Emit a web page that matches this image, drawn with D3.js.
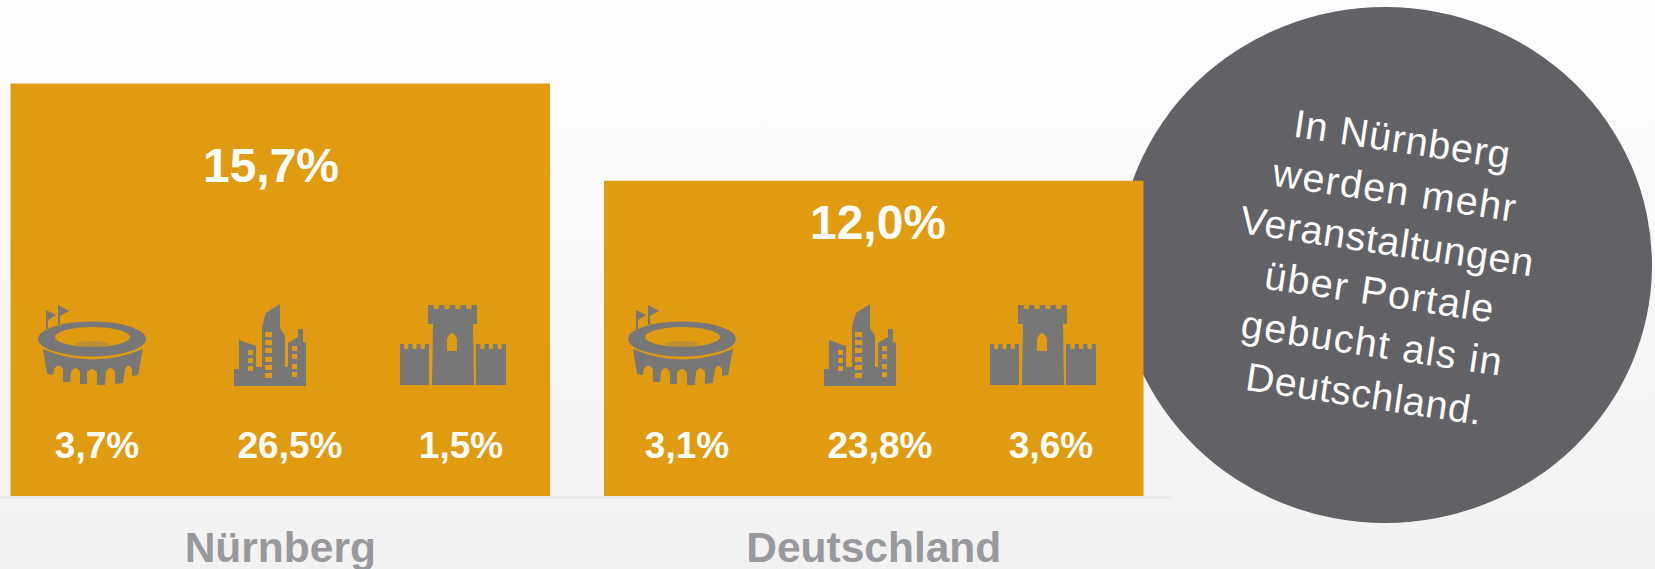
<!DOCTYPE html>
<html>
<head>
<meta charset="utf-8">
<script src="https://cdn.jsdelivr.net/npm/d3@7"></script>
<style>
  body { margin: 0; background: #fff; }
  text { font-family: "Liberation Sans", Arial, sans-serif; }
</style>
</head>
<body>
<div class="chart"></div>
<script>
// Data
var regions = ["Nürnberg", "Deutschland"];
var totals = [15.7, 12.0];
var venueTypes = ["stadium", "city", "castle"];
var stadiumValues = [3.7, 3.1];
var cityValues = [26.5, 23.8];
var castleValues = [1.5, 3.6];
var noteLines = ["In Nürnberg", "werden mehr", "Veranstaltungen", "über Portale", "gebucht als in", "Deutschland."];

var svgWidth = 1655;
var svgHeight = 569;
var baseline = 496;

var svg = d3.select(".chart")
  .append("svg")
  .attr("width", svgWidth)
  .attr("height", svgHeight)
  .style("display", "block");

var defs = svg.append("defs");

// Background fades to light grey
var grad = defs.append("linearGradient")
  .attr("id", "bg")
  .attr("x1", 0).attr("y1", 0).attr("x2", 0).attr("y2", 1);
grad.append("stop").attr("offset", "0%").attr("stop-color", "#fdfdfd");
grad.append("stop").attr("offset", "100%").attr("stop-color", "#f2f2f2");

// The icons are a bit soft in the original
defs.append("filter")
  .attr("id", "soft")
  .append("feGaussianBlur")
  .attr("stdDeviation", 0.5);

svg.append("rect")
  .attr("width", svgWidth)
  .attr("height", svgHeight)
  .attr("fill", "url(#bg)");

// Scales
var xScale = d3.scaleBand()
  .domain(regions)
  .range([0, 1170])
  .paddingInner(0.091)
  .paddingOuter(0.0312)
  .align(0.284);

var yScale = d3.scaleLinear()
  .domain([0, 16])
  .range([baseline, baseline - 16 * 26.27]);

var fmt = d3.formatLocale({ decimal: ",", thousands: ".", grouping: [3], currency: ["", "€"] }).format(".1f");
var pct = function(v) { return fmt(v) + "%"; };

// Grey note bubble sits behind the second bar
svg.append("ellipse")
  .attr("cx", 1385)
  .attr("cy", 265)
  .attr("rx", 267)
  .attr("ry", 258)
  .attr("fill", "#626166");

// Axis with the region names
var bottomAxis = d3.axisBottom(xScale).tickSize(0).tickPadding(35);
var axisGroup = svg.append("g")
  .attr("transform", `translate(0, ${baseline + 1})`)
  .call(bottomAxis);
axisGroup.select(".domain").attr("stroke", "#e6e6e6").attr("stroke-width", 2);
axisGroup.selectAll("text")
  .attr("font-size", 42.5)
  .attr("font-weight", "bold")
  .attr("fill", "#98989d");

// Bars
svg.selectAll(".bar")
  .data(regions)
  .enter()
  .append("rect")
  .attr("class", "bar")
  .attr("x", d => xScale(d))
  .attr("width", xScale.bandwidth())
  .attr("y", (d, i) => yScale(totals[i]))
  .attr("height", (d, i) => baseline - yScale(totals[i]))
  .attr("fill", "#e09b10");

// Headline percentage in each bar
var headlineX = d3.scaleOrdinal().domain(regions).range([271, 878]);
var headlineGap = d3.scaleOrdinal().domain(regions).range([98, 58.5]);
svg.selectAll(".total")
  .data(regions)
  .enter()
  .append("text")
  .attr("class", "total")
  .attr("x", d => headlineX(d))
  .attr("y", (d, i) => yScale(totals[i]) + headlineGap(d))
  .attr("text-anchor", "middle")
  .attr("font-size", 48)
  .attr("font-weight", "bold")
  .attr("fill", "#fff")
  .text((d, i) => pct(totals[i]));

// Icons, local origin is the top left corner of each glyph
function crenel(x0, x1, n, top, notch) {
  var gap = (x1 - x0) * 0.42 / (n - 1);
  var w = (x1 - x0) * 0.58 / n;
  var s = "";
  for (var i = 0; i < n; i++) {
    var a = x0 + i * (w + gap);
    s += `L${a},${top}L${a + w},${top}`;
    if (i < n - 1) s += `L${a + w},${notch}L${a + w + gap},${notch}`;
  }
  return s;
}

var stadiumPath =
  "M8,6L18,11L10,16V26H8Z M20,1L31,7L22,12V22H20Z " +
  "M0,35A54,17.5 0 1 1 108,35A54,17.5 0 1 1 0,35Z " +
  "M17,33A37.5,10 0 1 0 92,33A37.5,10 0 1 0 17,33Z " +
  "M5,45Q54,66 105,45L100,71L94,72L94,65Q90.5,58 87,65L85,79L77,80L77,68Q72.5,60 68,68L67,81L59,81L59,69Q54,61 49,69L49,80L42,80L42,68Q37.5,60 33,68L32,78L25,78L25,65Q20.5,58 16,65L15,71L9,70Z";

var cityPath =
  "M0,65H5V36L22,42V63H28V22L32,9L46,0V24L51,32V63H54V39L64,33V25H69V38L72,39V82H0Z " +
  "M31,28v5h7v-5z M31,36v5h7v-5z M31,44v5h7v-5z M31,53v5h7v-5z M31,61v5h7v-5z M31,69v5h7v-5z " +
  "M14,46v5h5v-5z M14,54v5h5v-5z M14,62v5h5v-5z " +
  "M58,42v5h5v-5z M58,50v5h5v-5z M58,60v5h5v-5z M58,68v5h5v-5z";

var castlePath =
  "M1,81V40" + crenel(1, 30, 4, 40, 45) + "L30,81Z " +
  "M77,81V40" + crenel(77, 107, 4, 40, 45) + "L107,81Z " +
  "M33,81L34,20L29,20V1" + crenel(29, 78, 5, 1, 5) + "L78,20L74,20L75,81Z " +
  "M48,47V35Q53,23 58,35V47Z";

var iconPaths = d3.scaleOrdinal().domain(venueTypes).range([stadiumPath, cityPath, castlePath]);
var iconLeft = d3.scaleOrdinal().domain(venueTypes).range([28, 224, 389]);
var labelCenter = d3.scaleOrdinal().domain(venueTypes).range([87, 280, 451]);
var groupOffset = d3.scaleOrdinal().domain(regions).range([10, 600]);

var venueValues = [stadiumValues, cityValues, castleValues];

var groups = svg.selectAll(".venues")
  .data(regions)
  .enter()
  .append("g")
  .attr("class", "venues")
  .attr("transform", d => `translate(${groupOffset(d)}, 0)`);

venueTypes.forEach(function(type, t) {
  groups.append("path")
    .attr("d", iconPaths(type))
    .attr("transform", `translate(${iconLeft(type)}, 304)`)
    .attr("fill", "#777777")
    .attr("fill-rule", "evenodd")
    .attr("filter", "url(#soft)");

  groups.append("text")
    .attr("x", labelCenter(type))
    .attr("y", 458)
    .attr("text-anchor", "middle")
    .attr("font-size", 37)
    .attr("font-weight", "bold")
    .attr("fill", "#fff")
    .text((d, i) => pct(venueValues[t][i]));
});

// Faint pitch inside the stadium ring
groups.append("ellipse")
  .attr("cx", iconLeft("stadium") + 54)
  .attr("cy", 344)
  .attr("rx", 17)
  .attr("ry", 3)
  .attr("fill", "#777777")
  .attr("opacity", 0.35);

// Note text, slightly tilted
var lineWidths = [218, 245, 296, 231, 263, 238];
var noteGroup = svg.append("g")
  .attr("transform", "translate(1381, 280) rotate(8.5)");

noteGroup.selectAll("text")
  .data(noteLines)
  .enter()
  .append("text")
  .attr("x", 0)
  .attr("y", (d, i) => (i - 2.5) * 51.5)
  .attr("text-anchor", "middle")
  .attr("font-size", 39.5)
  .attr("fill", "#fff")
  .attr("textLength", (d, i) => lineWidths[i])
  .attr("lengthAdjust", "spacing")
  .text(d => d);
</script>
</body>
</html>
